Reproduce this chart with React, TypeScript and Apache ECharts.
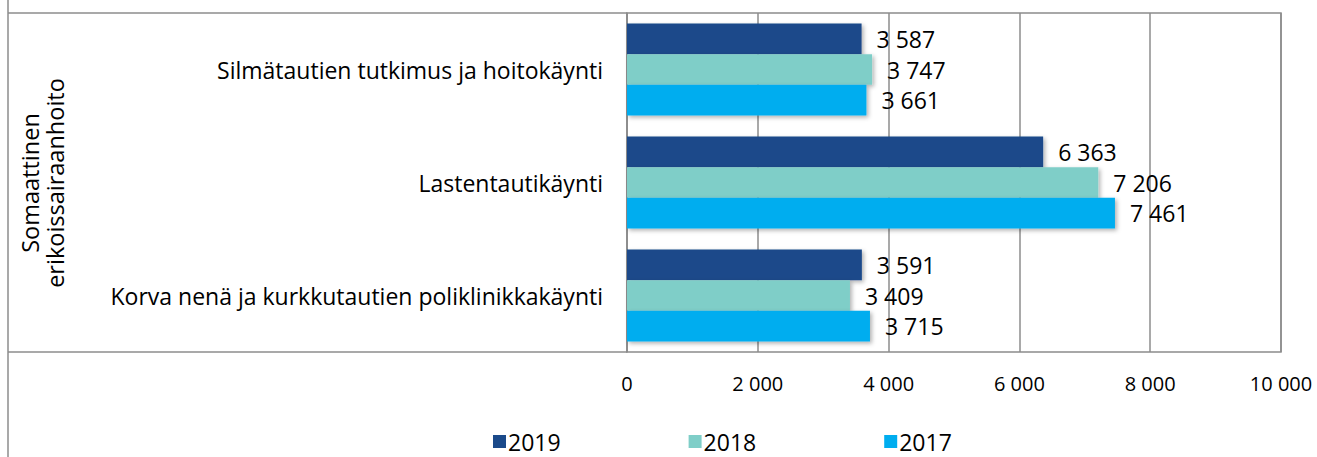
import React, { useEffect, useRef } from "react";
import * as echarts from "echarts";

const categories = [
  "Silmätautien tutkimus ja hoitokäynti",
  "Lastentautikäynti",
  "Korva nenä ja kurkkutautien poliklinikkakäynti",
];
const seriesNames = ["2019", "2018", "2017"];
const values2019 = [3587, 6363, 3591];
const values2018 = [3747, 7206, 3409];
const values2017 = [3661, 7461, 3715];
const groupTitle = "Somaattinen\nerikoissairaanhoito";
const colors = ["#1b4a8a", "#7fcec8", "#00adef"];

const FONT = "Open Sans";
const fmt = (v: number) => String(v).replace(/\B(?=(\d{3})+(?!\d))/g, " ");

export default function App() {
  const ref = useRef<HTMLDivElement>(null);
  useEffect(() => {
    document.body.style.margin = "0";
    const chart = echarts.init(ref.current!, null, { renderer: "svg" });
    const data = [values2019, values2018, values2017];
    const gridColor = "#8c8c8c";
    chart.setOption({
      animation: false,
      textStyle: { fontFamily: FONT },
      grid: {
        left: 627,
        right: 36,
        top: 13,
        bottom: 105,
        show: true,
        borderColor: gridColor,
        borderWidth: 1.5,
      },
      legend: {
        left: 493,
        top: 430,
        padding: 0,
        itemWidth: 13,
        itemHeight: 13,
        itemGap: 128,
        icon: "rect",
        data: seriesNames,
        textStyle: {
          fontFamily: FONT,
          fontSize: 23,
          lineHeight: 22,
          color: "#000",
          padding: [0, 0, 0, -3],
        },
      },
      xAxis: {
        type: "value",
        min: 0,
        max: 10000,
        interval: 2000,
        axisLine: { show: false },
        axisTick: { show: false },
        splitLine: { show: true, lineStyle: { color: gridColor, width: 1.5 } },
        axisLabel: {
          margin: 21,
          fontSize: 20,
          fontFamily: FONT,
          color: "#000",
          formatter: (v: number) => fmt(v),
        },
      },
      yAxis: {
        type: "category",
        inverse: true,
        data: categories,
        axisLine: { show: true, lineStyle: { color: gridColor, width: 1.5 } },
        axisTick: { show: false },
        axisLabel: { margin: 24, fontSize: 23, fontFamily: FONT, color: "#000" },
      },
      series: seriesNames.map((name, i) => ({
        name,
        type: "bar",
        data: data[i],
        barGap: "0%",
        barCategoryGap: "18.5%",
        itemStyle: {
          color: colors[i],
          shadowBlur: 4,
          shadowColor: "rgba(0,0,0,0.3)",
          shadowOffsetX: 2,
          shadowOffsetY: 2,
        },
        label: {
          show: true,
          position: "right",
          distance: 15,
          fontSize: 23,
          fontFamily: FONT,
          color: "#000",
          formatter: (p: any) => fmt(p.value),
        },
      })),
      graphic: [
        {
          type: "line",
          shape: { x1: 8, y1: 0, x2: 8, y2: 457 },
          style: { stroke: gridColor, lineWidth: 1.5 },
        },
        {
          type: "line",
          shape: { x1: 8, y1: 13, x2: 627, y2: 13 },
          style: { stroke: gridColor, lineWidth: 1.5 },
        },
        {
          type: "line",
          shape: { x1: 8, y1: 352, x2: 627, y2: 352 },
          style: { stroke: gridColor, lineWidth: 1.5 },
        },
        {
          type: "text",
          x: 42,
          y: 183,
          rotation: Math.PI / 2,
          style: {
            text: groupTitle,
            fontFamily: FONT,
            fontSize: 23.5,
            lineHeight: 25,
            fill: "#000",
            align: "center",
            verticalAlign: "middle",
          },
        },
      ],
    });
    return () => chart.dispose();
  }, []);
  return <div ref={ref} style={{ width: 1317, height: 457 }} />;
}
